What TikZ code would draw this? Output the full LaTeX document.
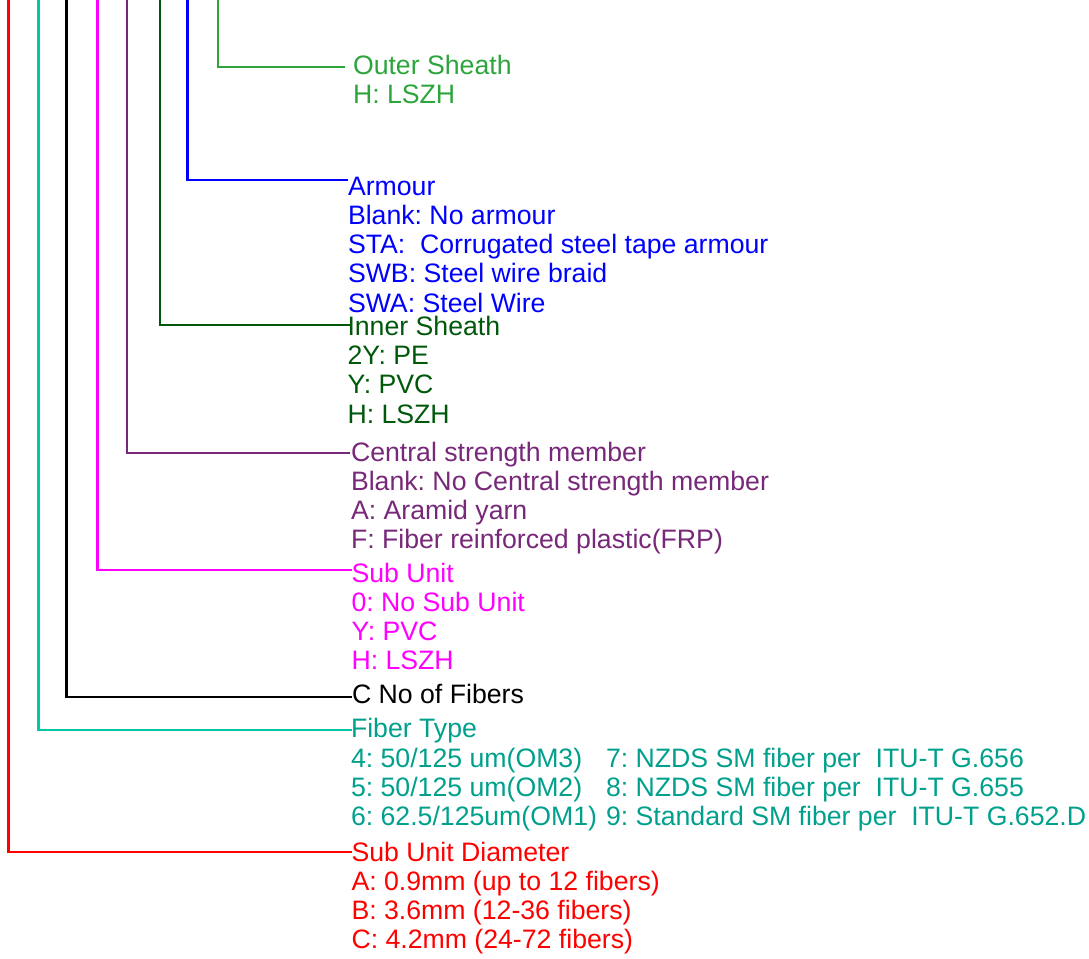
\documentclass[tikz,border=0pt]{standalone}
\usepackage{fontspec}
\setmainfont{Liberation Sans}
\definecolor{cgreen}{RGB}{44,165,60}
\definecolor{cblue}{RGB}{0,0,255}
\definecolor{cdkgreen}{RGB}{0,88,10}
\definecolor{cpurple}{RGB}{120,40,120}
\definecolor{cmagenta}{RGB}{255,0,255}
\definecolor{cblack}{RGB}{0,0,0}
\definecolor{ctealline}{RGB}{0,200,165}
\definecolor{ctealtext}{RGB}{0,160,140}
\definecolor{cred}{RGB}{255,0,0}
\tikzset{
  lbl/.style={anchor=base west, inner sep=0pt, outer sep=0pt, font=\fontsize{20}{22}\selectfont\frenchspacing},
  leader/.style={line width=2.2pt, line cap=rect},
}
\begin{document}
\begin{tikzpicture}[x=0.75pt,y=-0.75pt]
\useasboundingbox (0,0) rectangle (1089,958);
% ---------- Outer Sheath ----------
\coordinate (gtop) at (218,0);
\coordinate (gend) at (344,67);
\node[lbl,text=cgreen] (os1) at (353,74) {Outer Sheath};
\node[lbl,text=cgreen] (os2) at (353,103.5) {H: LSZH};
\draw[leader,draw=cgreen] (gtop) |- (gend);
% ---------- Armour ----------
\coordinate (btop) at (187.5,0);
\coordinate (bend) at (347,180);
\foreach \t [count=\i] in {Armour,Blank: No armour,STA:\ \ Corrugated steel tape armour,SWB: Steel wire braid,SWA: Steel Wire}
  \node[lbl,text=cblue] (ar\i) at (348,{195+29.25*(\i-1)}) {\t};
\draw[leader,draw=cblue] (btop) |- (bend);
% ---------- Inner Sheath ----------
\coordinate (dtop) at (160,0);
\coordinate (dend) at (349,325);
\foreach \t [count=\i] in {Inner Sheath,2Y: PE,Y: PVC,H: LSZH}
  \node[lbl,text=cdkgreen] (is\i) at (347.5,{335+29.4*(\i-1)}) {\t};
\draw[leader,draw=cdkgreen] (dtop) |- (dend);
% ---------- Central strength member ----------
\coordinate (ptop) at (127,0);
\coordinate (pend) at (349,453);
\foreach \t [count=\i] in {Central strength member,Blank: No Central strength member,A: Aramid yarn,F: Fiber reinforced plastic(FRP)}
  \node[lbl,text=cpurple] (cs\i) at (351,{461+29.3*(\i-1)}) {\t};
\draw[leader,draw=cpurple] (ptop) |- (pend);
% ---------- Sub Unit ----------
\coordinate (mtop) at (97.5,0);
\coordinate (mend) at (351,570);
\foreach \t [count=\i] in {Sub Unit,0: No Sub Unit,Y: PVC,H: LSZH}
  \node[lbl,text=cmagenta] (su\i) at (351.5,{582+29.2*(\i-1)}) {\t};
\draw[leader,draw=cmagenta] (mtop) |- (mend);
% ---------- No of Fibers ----------
\coordinate (ktop) at (66.5,0);
\coordinate (kend) at (351,697);
\node[lbl,text=cblack] (nf1) at (352,703) {C No of Fibers};
\draw[leader,draw=cblack] (ktop) |- (kend);
% ---------- Fiber Type ----------
\coordinate (ttop) at (38.5,0);
\coordinate (tend) at (351,730);
\node[lbl,text=ctealtext] (ft1) at (351,737.5) {Fiber Type};
\node[lbl,text=ctealtext] (fa1) at (351,767.5) {4: 50/125 um(OM3)};
\node[lbl,text=ctealtext] (fa2) at (351,796.5) {5: 50/125 um(OM2)};
\node[lbl,text=ctealtext] (fa3) at (351,825.5) {6: 62.5/125um(OM1)};
\node[lbl,text=ctealtext] (fb1) at (606,767.5) {7: NZDS SM fiber per\ \ ITU-T G.656};
\node[lbl,text=ctealtext] (fb2) at (606,796.5) {8: NZDS SM fiber per\ \ ITU-T G.655};
\node[lbl,text=ctealtext] (fb3) at (606,825.5) {9: Standard SM fiber per\ \ ITU-T G.652.D};
\draw[leader,draw=ctealline] (ttop) |- (tend);
% ---------- Sub Unit Diameter ----------
\coordinate (rtop) at (8.5,0);
\coordinate (rend) at (351,852);
\foreach \t [count=\i] in {Sub Unit Diameter,A: 0.9mm (up to 12 fibers),B: 3.6mm (12-36 fibers),C: 4.2mm (24-72 fibers)}
  \node[lbl,text=cred] (sd\i) at (351.5,{861+29.3*(\i-1)}) {\t};
\draw[leader,draw=cred] (rtop) |- (rend);
\end{tikzpicture}
\end{document}
